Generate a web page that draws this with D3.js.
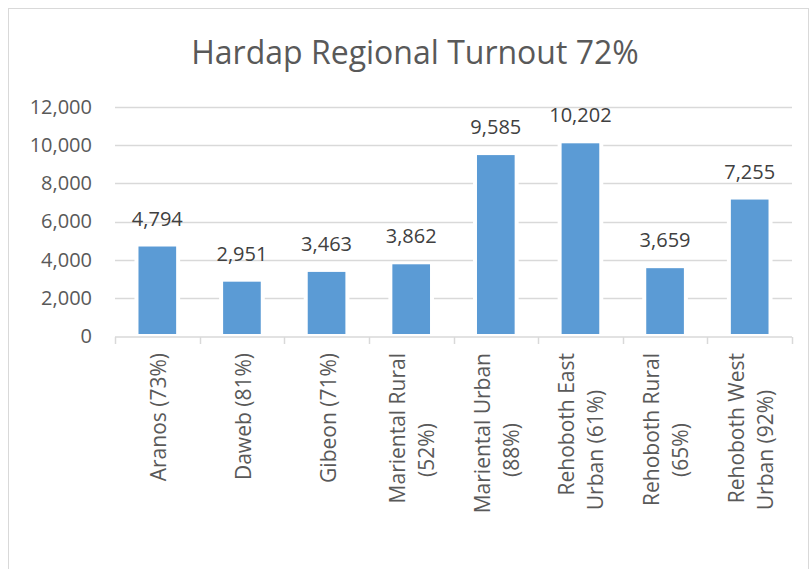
<!DOCTYPE html>
<html>
<head>
<meta charset="utf-8">
<script src="https://cdn.jsdelivr.net/npm/d3@7"></script>
<style>
  body { margin: 0; background: #fff; }
  text { font-family: "Open Sans", sans-serif; }
</style>
</head>
<body>
<div id="chart"></div>
<script>
var svgWidth = 812;
var svgHeight = 569;

// data
var regions = ["Aranos (73%)", "Daweb (81%)", "Gibeon (71%)", "Mariental Rural (52%)",
  "Mariental Urban (88%)", "Rehoboth East Urban (61%)", "Rehoboth Rural (65%)", "Rehoboth West Urban (92%)"];
var labelLines = [["Aranos (73%)"], ["Daweb (81%)"], ["Gibeon (71%)"], ["Mariental Rural", "(52%)"],
  ["Mariental Urban", "(88%)"], ["Rehoboth East", "Urban (61%)"], ["Rehoboth Rural", "(65%)"], ["Rehoboth West", "Urban (92%)"]];
var votes = [4794, 2951, 3463, 3862, 9585, 10202, 3659, 7255];
var yTicks = [0, 2000, 4000, 6000, 8000, 10000, 12000];
var title = "Hardap Regional Turnout 72%";

var margin = { top: 107, right: 20, bottom: 233, left: 115 };
var chartWidth = 792 - margin.left;
var chartHeight = 336 - margin.top;

var svg = d3.select("#chart")
  .append("svg")
  .attr("width", svgWidth)
  .attr("height", svgHeight);

// chart frame
svg.append("rect")
  .attr("x", 8.5).attr("y", 8.5)
  .attr("width", 800).attr("height", 600)
  .attr("fill", "#fff")
  .attr("stroke", "#d9d9d9");

svg.append("text")
  .attr("x", 415)
  .attr("y", 64)
  .attr("text-anchor", "middle")
  .attr("font-size", "32px")
  .attr("fill", "#595959")
  .text(title);

var chartGroup = svg.append("g")
  .attr("transform", `translate(${margin.left}, ${margin.top})`);

var xScale = d3.scaleBand()
  .domain(regions)
  .range([0, chartWidth])
  .paddingInner(0.555)
  .paddingOuter(0.2775);

var yScale = d3.scaleLinear()
  .domain([0, 12000])
  .range([chartHeight, 0]);

// gridlines
chartGroup.append("g")
  .selectAll("line")
  .data(yTicks.filter(d => d > 0))
  .enter()
  .append("line")
  .attr("x1", 0)
  .attr("x2", chartWidth)
  .attr("y1", d => Math.round(yScale(d)) + 0.5)
  .attr("y2", d => Math.round(yScale(d)) + 0.5)
  .attr("stroke", "#d9d9d9")
  .attr("stroke-width", 1.5);

// y labels
var leftAxis = d3.axisLeft(yScale)
  .tickValues(yTicks)
  .tickSize(0)
  .tickPadding(23)
  .tickFormat(d3.format(","));

var yAxisG = chartGroup.append("g").call(leftAxis);
yAxisG.select(".domain").remove();
yAxisG.selectAll("text")
  .attr("font-size", "20px")
  .attr("font-family", "Open Sans, sans-serif")
  .attr("fill", "#595959");

// bars, white edge first so the gridlines break around them
var bars = chartGroup.selectAll(".bar").data(votes).enter();

bars.append("rect")
  .attr("x", (d, i) => xScale(regions[i]) - 4)
  .attr("y", d => yScale(d))
  .attr("width", xScale.bandwidth() + 8)
  .attr("height", d => chartHeight - yScale(d))
  .attr("fill", "#fff");

bars.append("rect")
  .attr("x", (d, i) => xScale(regions[i]))
  .attr("y", d => yScale(d) + 2)
  .attr("width", xScale.bandwidth())
  .attr("height", d => chartHeight - yScale(d) - 4)
  .attr("fill", "#5b9bd5");

bars.append("text")
  .attr("x", (d, i) => xScale(regions[i]) + xScale.bandwidth() / 2)
  .attr("y", d => yScale(d) - 19)
  .attr("text-anchor", "middle")
  .attr("font-size", "20px")
  .attr("fill", "#404040")
  .text(d => d3.format(",")(d));

// x axis line and tick marks
var bottomAxis = d3.axisBottom(xScale).tickSize(0).tickFormat("");
var xAxisG = chartGroup.append("g")
  .attr("transform", `translate(0, ${chartHeight + 1})`)
  .call(bottomAxis);
xAxisG.select(".domain").attr("stroke", "#d9d9d9").attr("stroke-width", 1.5)
  .attr("d", `M0,0H${chartWidth}`);

var bounds = regions.map(r => xScale(r) - xScale.step() * xScale.paddingInner() / 2);
bounds[0] = 0;
bounds.push(chartWidth);
xAxisG.selectAll(".bound")
  .data(bounds)
  .enter()
  .append("line")
  .attr("x1", d => Math.round(d) + 0.5)
  .attr("x2", d => Math.round(d) + 0.5)
  .attr("y1", 0)
  .attr("y2", 7)
  .attr("stroke", "#d9d9d9")
  .attr("stroke-width", 1.5);

// category labels, rotated
regions.forEach(function(r, i) {
  var cx = xScale(r) + xScale.bandwidth() / 2;
  var lines = labelLines[i];
  lines.forEach(function(line, j) {
    var off = lines.length === 1 ? 1 : (j === 0 ? -14 : 15);
    var along = j === 0 ? 16 : 113;
    xAxisG.append("text")
      .attr("transform", `translate(${cx + off}, ${along}) rotate(-90)`)
      .attr("text-anchor", j === 0 ? "end" : "middle")
      .attr("dominant-baseline", "central")
      .attr("font-size", "21px")
      .attr("fill", "#595959")
      .text(line);
  });
});
</script>
</body>
</html>
